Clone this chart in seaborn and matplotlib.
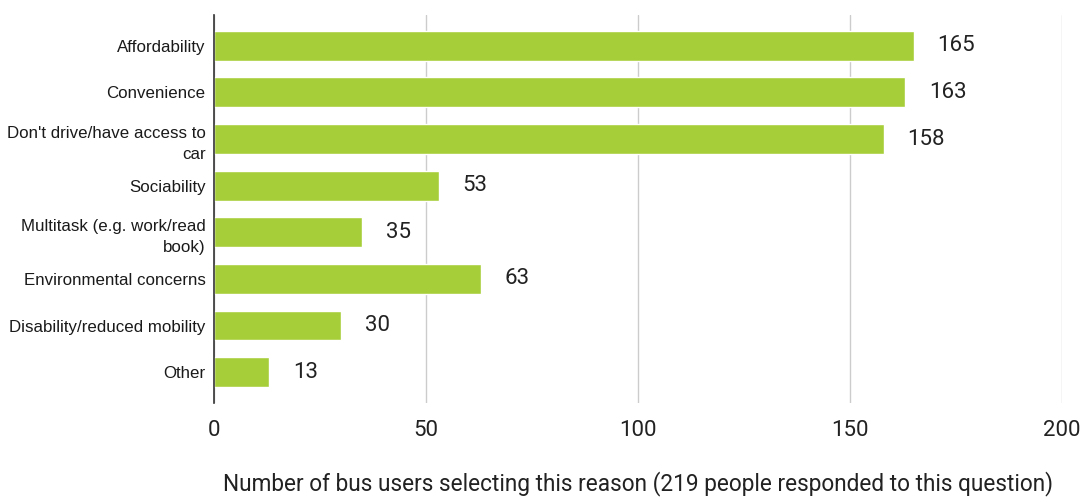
import matplotlib
matplotlib.use("Agg")
import matplotlib.pyplot as plt
import seaborn as sns
import pandas as pd

categories = ["Affordability", "Convenience", "Don't drive/have access to\ncar", "Sociability",
              "Multitask (e.g. work/read\nbook)", "Environmental concerns",
              "Disability/reduced mobility", "Other"]
values = [165, 163, 158, 53, 35, 63, 30, 13]
x_ticks = [0, 50, 100, 150, 200]
x_label = "Number of bus users selecting this reason (219 people responded to this question)"

sns.set_style("white")
plt.rcParams['font.family'] = ['Roboto', 'DejaVu Sans']

df = pd.DataFrame({"cat": categories, "val": values})

fig = plt.figure(figsize=(10.84, 4.98), dpi=100)
ax = fig.add_axes([0.1974, 0.1908, 0.9797 - 0.1974, 0.9699 - 0.1908])
sns.barplot(data=df, x="val", y="cat", color="#a6ce39", saturation=1, width=0.64, ax=ax, zorder=3)

ax.set_xlim(0, 200)
ax.set_ylim(7.66, -0.66)
ax.set_xticks(x_ticks)
ax.xaxis.grid(True, color="#cccccc", linewidth=1, zorder=0)
ax.yaxis.grid(False)
for s in ["top", "right", "bottom"]:
    ax.spines[s].set_visible(False)
ax.spines["left"].set_color("#333333")
ax.spines["left"].set_linewidth(1.2)
ax.spines["left"].set_zorder(4)
ax.tick_params(axis="x", length=0, pad=12, labelsize=16, labelcolor="#222222")
ax.tick_params(axis="y", length=0, pad=6, labelcolor="#1a1a1a")
for lbl in ax.get_yticklabels():
    lbl.set_multialignment("right")
    lbl.set_fontfamily(["Liberation Sans", "DejaVu Sans"])
    lbl.set_fontsize(12.2)
    lbl.set_linespacing(1.55)
ax.set_ylabel("")
ax.set_xlabel(x_label, fontsize=16.3, color="#222222", labelpad=22)

for i, v in enumerate(values):
    ax.annotate(str(v), (v, i), xytext=(17, 0), textcoords="offset points",
                va="center", ha="left", fontsize=16, color="#222222")

fig.savefig("out.png", dpi=100)
